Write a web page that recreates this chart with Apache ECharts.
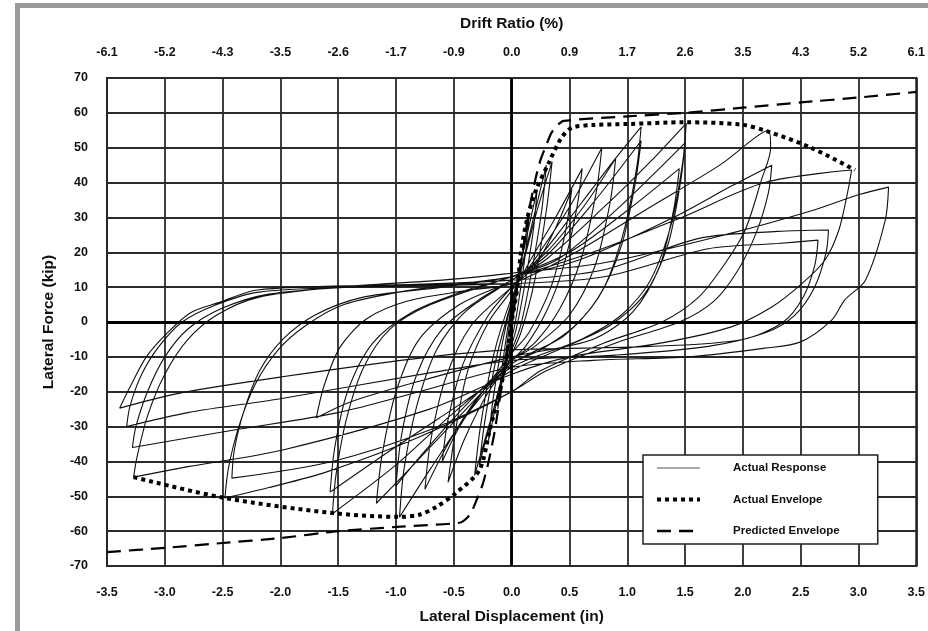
<!DOCTYPE html>
<html>
<head>
<meta charset="utf-8">
<style>html,body{margin:0;padding:0;background:#fff}#chart{width:928px;height:631px}</style>
<script src="https://cdn.jsdelivr.net/npm/echarts@6/dist/echarts.min.js"></script>
</head>
<body>
<div id="chart"></div>
<script>
var myChart = echarts.init(document.getElementById('chart'));

// axis ticks
var xMin = -3.5, xMax = 3.5, xStep = 0.5;
var driftLabels = ['-6.1', '-5.2', '-4.3', '-3.5', '-2.6', '-1.7', '-0.9', '0.0', '0.9', '1.7', '2.6', '3.5', '4.3', '5.2', '6.1'];

// measured response, one array per load cycle (in, kip)
var cycle01 = [[0,0],[0.04,10],[0.08,18],[0.06,12],[0.02,3],[0,-2],[-0.04,-9],[-0.07,-15],[-0.05,-9],[-0.02,-1],[0,4]];
var cycle02 = [[0.05,12],[0.1,21],[0.15,30],[0.12,20],[0.07,8],[0.02,-2],[-0.05,-11],[-0.12,-25],[-0.09,-15],[-0.04,-3],[0,5]];
var cycle03 = [[0.06,14],[0.14,26],[0.22,38],[0.19,27],[0.12,12],[0.04,-2],[-0.05,-12],[-0.13,-23],[-0.2,-34],[-0.16,-22],[-0.08,-6],[0,6]];
var cycle04 = [[0.08,15],[0.19,30],[0.3,45],[0.26,32],[0.17,14],[0.07,-2],[-0.06,-13],[-0.17,-27],[-0.28,-41],[-0.23,-28],[-0.13,-10],[0,6]];
var cycle05 = [[0.1,17],[0.22,32],[0.35,46],[0.3,32],[0.2,12],[0.08,-3],[-0.06,-14],[-0.19,-29],[-0.32,-44],[-0.27,-30],[-0.16,-10],[0,7]];
var cycle06 = [[0.15,17],[0.38,30],[0.61,44],[0.56,32],[0.44,15],[0.3,3],[0.12,-7],[0,-11],[-0.2,-20],[-0.4,-33],[-0.55,-46],[-0.49,-32],[-0.38,-14],[-0.2,0],[0,9]];
var cycle07 = [[0.2,18],[0.5,33],[0.78,50],[0.73,37],[0.6,18],[0.42,4],[0.2,-6],[0,-11],[-0.3,-22],[-0.55,-35],[-0.75,-48],[-0.7,-34],[-0.57,-16],[-0.35,-1],[0,10]];
var cycle08 = [[0.2,16],[0.38,27],[0.52,38],[0.46,25],[0.34,10],[0.15,-3],[0,-9],[-0.25,-20],[-0.45,-30],[-0.6,-40],[-0.55,-28],[-0.42,-12],[-0.2,2],[0,10]];
var cycle09 = [[0.25,19],[0.6,34],[0.9,47],[1.12,56],[1.08,44],[0.97,26],[0.8,10],[0.55,-1],[0.25,-8],[0,-12],[-0.35,-25],[-0.7,-42],[-0.97,-56],[-0.93,-42],[-0.82,-24],[-0.65,-8],[-0.4,3],[0,12]];
var cycle10 = [[0.3,19],[0.7,34],[1.12,52],[1.07,40],[0.95,22],[0.75,7],[0.45,-4],[0,-12],[-0.45,-27],[-0.85,-41],[-1.17,-52],[-1.12,-38],[-1.0,-20],[-0.8,-5],[-0.45,5],[0,12]];
var cycle11 = [[0.3,20],[0.62,33],[0.9,47],[0.85,34],[0.72,16],[0.5,2],[0.2,-7],[0,-11],[-0.4,-24],[-0.75,-37],[-1.0,-47],[-0.95,-32],[-0.82,-15],[-0.6,-2],[-0.3,6],[0,12]];
var cycle12 = [[0.3,18],[0.8,33],[1.2,46],[1.51,57],[1.48,46],[1.38,28],[1.2,12],[0.95,2],[0.6,-5],[0,-13],[-0.5,-26],[-1.0,-41],[-1.55,-55],[-1.52,-44],[-1.43,-28],[-1.28,-13],[-1.05,-2],[-0.7,5],[0,13]];
var cycle13 = [[0.4,18],[0.9,32],[1.5,51.4],[1.46,40],[1.35,22],[1.15,8],[0.85,-1],[0.4,-8],[0,-14],[-0.6,-27],[-1.1,-38],[-1.57,-48.8],[-1.53,-36],[-1.42,-20],[-1.2,-6],[-0.85,3],[-0.4,9],[0,13]];
var cycle14 = [[0.5,20],[1.0,32],[1.45,44],[1.4,32],[1.28,16],[1.05,3],[0.7,-5],[0,-10],[-0.8,-17],[-1.4,-23],[-1.69,-27.5],[-1.62,-18],[-1.48,-7],[-1.25,1],[-0.9,6],[-0.4,9],[0,11]];
var cycle15 = [[0.5,19],[1.2,33],[1.8,45],[2.22,55],[2.24,50],[2.16,40.7],[2.02,26.4],[1.85,17],[1.62,7.2],[1.3,0],[0.8,-6],[0.25,-14],[0,-20],[-0.8,-33],[-1.6,-43],[-2.1,-47.5],[-2.48,-50.5],[-2.45,-42],[-2.36,-30],[-2.22,-18],[-2.02,-8],[-1.78,-1],[-1.45,5],[-0.9,9],[0,13]];
var cycle16 = [[0.6,18],[1.4,30],[1.9,39],[2.25,45],[2.22,37],[2.12,26],[1.96,15],[1.75,6],[1.45,0],[0.9,-6],[0.3,-14],[0,-20],[-0.71,-31],[-1.55,-40],[-2.42,-44.8],[-2.4,-37],[-2.32,-26],[-2.18,-14],[-1.98,-5],[-1.7,2],[-1.3,7],[-0.6,10],[0,13]];
var cycle17 = [[0.7,20],[1.47,30],[2.19,40],[2.94,43.6],[2.91,37.9],[2.83,26.4],[2.71,17.8],[2.51,11],[2.25,4.3],[1.9,-1.4],[1.3,-6],[0.5,-10],[0,-15],[-0.71,-25],[-1.98,-36.7],[-2.8,-41.5],[-3.27,-44.5],[-3.24,-38.7],[-3.15,-27],[-3.0,-15],[-2.8,-5],[-2.55,2],[-2.2,7],[-1.5,10],[-0.6,12],[0,14]];
var cycle18 = [[0.8,17],[1.9,25.5],[2.6,32],[3.0,36.5],[3.26,38.7],[3.23,29],[3.06,12],[2.88,6.3],[2.77,0.6],[2.5,-5.7],[2.19,-7.5],[1.53,-10],[0.7,-11],[0,-13],[-0.8,-20],[-1.5,-26],[-2.4,-31],[-3.28,-36],[-3.25,-30],[-3.15,-20],[-3.0,-10],[-2.8,-2],[-2.5,4],[-2.1,8],[-1.4,10],[0,12]];
var cycle19 = [[0.8,15],[1.62,24],[2.3,26],[2.74,26.4],[2.72,20],[2.62,10],[2.45,2],[2.2,-3],[1.7,-7],[0.9,-9.5],[0,-11],[-0.71,-14.6],[-2.0,-22],[-2.8,-26],[-3.33,-30],[-3.3,-24],[-3.2,-15],[-3.05,-7],[-2.85,0],[-2.55,5],[-2.2,8.5],[-1.4,10],[0,11]];
var cycle20 = [[0.8,13],[1.7,21],[2.3,22.5],[2.65,23.5],[2.62,16],[2.52,7],[2.35,0],[2.0,-5],[1.2,-7],[0,-8],[-0.71,-10],[-2.0,-15.8],[-2.87,-20.4],[-3.39,-24.7],[-3.3,-18.6],[-3.16,-10],[-2.98,-3.2],[-2.78,2.6],[-2.52,5.7],[-2.2,9.2],[-1.2,10.5],[0,11]];

// envelopes
var actualEnvelope = [[-3.27,-44.5],[-2.48,-50.5],[-1.55,-54.8],[-0.97,-55.9],[-0.8,-55.3],[-0.65,-53],[-0.48,-49],[-0.28,-42.5],[-0.19,-31],[-0.08,-16.6],[0,0],[0.05,10],[0.08,19.8],[0.13,29],[0.2,37],[0.32,45.6],[0.43,52.8],[0.52,55.7],[0.7,56.5],[1.0,56.8],[1.5,57.3],[1.99,56.6],[2.22,54.6],[2.59,50],[2.97,43.6]];
var predictedEnvelope = [[-3.5,-66],[-3.0,-64.8],[-2.5,-63.4],[-2.0,-62],[-1.5,-60],[-1.0,-58.8],[-0.45,-57.6],[-0.38,-56],[-0.34,-54],[-0.29,-50],[-0.25,-46.5],[-0.21,-41.6],[-0.15,-32],[-0.08,-17],[0,0],[0.08,17],[0.15,32],[0.21,41.6],[0.25,46.5],[0.29,50],[0.34,54],[0.38,56],[0.45,57.7],[1.0,59],[1.5,60],[2.0,61.5],[2.5,63],[3.0,64.4],[3.5,66]];

var actualResponse = [].concat(cycle01, cycle02, cycle03, cycle04, cycle05, cycle06, cycle07, cycle08, cycle09, cycle10,
  cycle11, cycle12, cycle13, cycle14, cycle15, cycle16, cycle17, cycle18, cycle19, cycle20);

var fontName = 'Liberation Sans, Arial, sans-serif';
var tickFont = { color: '#111', fontWeight: 'bold', fontSize: 12.5, fontFamily: fontName };
var titleFont = { color: '#111', fontWeight: 'bold', fontSize: 15.5, fontFamily: fontName };
var gridLine = { show: true, lineStyle: { color: '#2a2a2a', width: 1.8 } };

var option = {
  animation: false,
  backgroundColor: '#fff',
  graphic: [{
    type: 'rect', silent: true, z: -10,
    shape: { x: 17.5, y: 5.5, width: 1000, height: 1000 },
    style: { fill: 'none', stroke: '#9a9a9a', lineWidth: 5 }
  }],
  grid: { left: 107, right: 10, top: 78, bottom: 65, show: true, borderColor: '#111', borderWidth: 2 },
  legend: {
    left: 643, top: 455, orient: 'vertical',
    backgroundColor: '#fff', borderColor: '#222', borderWidth: 1.5,
    padding: [7, 38, 7, 12], itemWidth: 43, itemHeight: 14, itemGap: 19.5,
    itemStyle: { opacity: 0 },
    textStyle: { color: '#111', fontWeight: 'bold', fontSize: 11.5, fontFamily: fontName, padding: [0, 0, 0, 28] },
    data: [
      { name: 'Actual Response', lineStyle: { width: 1, color: '#555' } },
      { name: 'Actual Envelope', lineStyle: { width: 4, type: [4, 4] } },
      { name: 'Predicted Envelope', lineStyle: { width: 2.5, type: [14, 8] } }
    ]
  },
  xAxis: [{
    type: 'value', position: 'bottom', min: xMin, max: xMax, interval: xStep,
    name: 'Lateral Displacement (in)', nameLocation: 'middle', nameGap: 43, nameTextStyle: titleFont,
    axisLine: { show: false }, axisTick: { show: false },
    axisLabel: Object.assign({ margin: 20, formatter: function (v) { return v.toFixed(1); } }, tickFont),
    splitLine: gridLine
  }, {
    type: 'value', position: 'top', min: xMin, max: xMax, interval: xStep,
    name: 'Drift Ratio (%)', nameLocation: 'middle', nameGap: 46, nameTextStyle: titleFont,
    axisLine: { show: false }, axisTick: { show: false },
    axisLabel: Object.assign({ margin: 19, formatter: function (v) { return driftLabels[Math.round((v - xMin) / xStep)]; } }, tickFont),
    splitLine: { show: false }
  }],
  yAxis: {
    type: 'value', min: -70, max: 70, interval: 10,
    name: 'Lateral Force (kip)', nameLocation: 'middle', nameGap: 50, nameTextStyle: titleFont,
    axisLine: { show: false }, axisTick: { show: false },
    axisLabel: Object.assign({ margin: 19 }, tickFont),
    splitLine: gridLine
  },
  series: [{
    name: 'zero', type: 'line', data: [], silent: true,
    markLine: {
      silent: true, symbol: 'none', label: { show: false },
      lineStyle: { color: '#000', width: 2.8, type: 'solid' },
      data: [{ xAxis: 0 }, { yAxis: 0 }]
    }
  }, {
    name: 'Actual Response', type: 'line', data: actualResponse, symbol: 'none', smooth: 0.3,
    lineStyle: { color: '#111', width: 1.1 }, itemStyle: { color: '#111' }
  }, {
    name: 'Actual Envelope', type: 'line', data: actualEnvelope, symbol: 'none', smooth: 0.3,
    lineStyle: { color: '#000', width: 4, type: [4, 4] }, itemStyle: { color: '#000' }
  }, {
    name: 'Predicted Envelope', type: 'line', data: predictedEnvelope, symbol: 'none', smooth: 0.2,
    lineStyle: { color: '#000', width: 2.2, type: [14, 8] }, itemStyle: { color: '#000' }
  }]
};
myChart.setOption(option);
</script>
</body>
</html>
